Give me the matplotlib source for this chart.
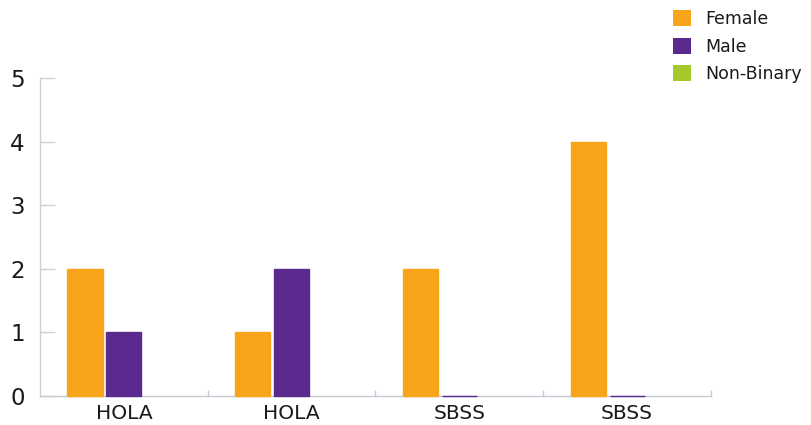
import matplotlib
matplotlib.use("Agg")
import matplotlib.pyplot as plt
from matplotlib.patches import Patch
import numpy as np

plt.rcParams['font.family'] = ['DejaVu Sans']

categories = ["HOLA", "HOLA", "SBSS", "SBSS"]
series_names = ["Female", "Male", "Non-Binary"]
female = [2, 1, 2, 4]
male = [1, 2, 0, 0]
non_binary = [np.nan, np.nan, np.nan, np.nan]
y_ticks = [0, 1, 2, 3, 4, 5]

colors = ["#F8A51B", "#5B2A8E", "#A5C92A"]

fig = plt.figure(figsize=(8.12, 4.25), dpi=100)
ax = fig.add_axes([40/812, 1-396/425, (711-40)/812, (396-78)/425])

x = np.arange(len(categories))
width = 0.21
offsets = [-0.232, 0.0, 0.232]
for vals, off, c in zip([female, male, non_binary], offsets, colors):
    ax.bar(x + off, vals, width=width, color=c, edgecolor=c, linewidth=1.0,
           zorder=3, clip_on=False)

ax.set_xlim(-0.5, len(categories) - 0.5)
ax.set_ylim(0, 5)
ax.set_yticks(y_ticks)
ax.set_yticklabels([str(v) for v in y_ticks])
ax.set_xticks(x)
ax.set_xticklabels(categories)
ax.set_xticks(np.arange(len(categories)) + 0.5, minor=True)

for s in ['top', 'right']:
    ax.spines[s].set_visible(False)
ax.spines['left'].set_color('#d0d0d0')
ax.spines['bottom'].set_color('#c8c8d4')
ax.spines['left'].set_linewidth(1.0)
ax.spines['bottom'].set_linewidth(1.0)

ax.tick_params(axis='y', direction='in', length=11, width=1, color='#d0d0d0',
               labelsize=16.5, pad=11, labelcolor='#1a1a1a')
ax.tick_params(axis='x', which='major', length=0, labelsize=14.5, pad=6, labelcolor='#1a1a1a')
ax.tick_params(axis='x', which='minor', direction='in', length=4, width=1, color='#c8c8d4')

handles = [Patch(facecolor=c, edgecolor='none') for c in colors]
fig.legend(handles, series_names, loc='upper left', bbox_to_anchor=(673/812, 1-10/425),
           frameon=False, fontsize=12.5, handlelength=1.05, handleheight=1.05,
           labelspacing=0.55, handletextpad=0.8, borderpad=0, borderaxespad=0,
           labelcolor='#1a1a1a')

fig.savefig("out.png", dpi=100)
